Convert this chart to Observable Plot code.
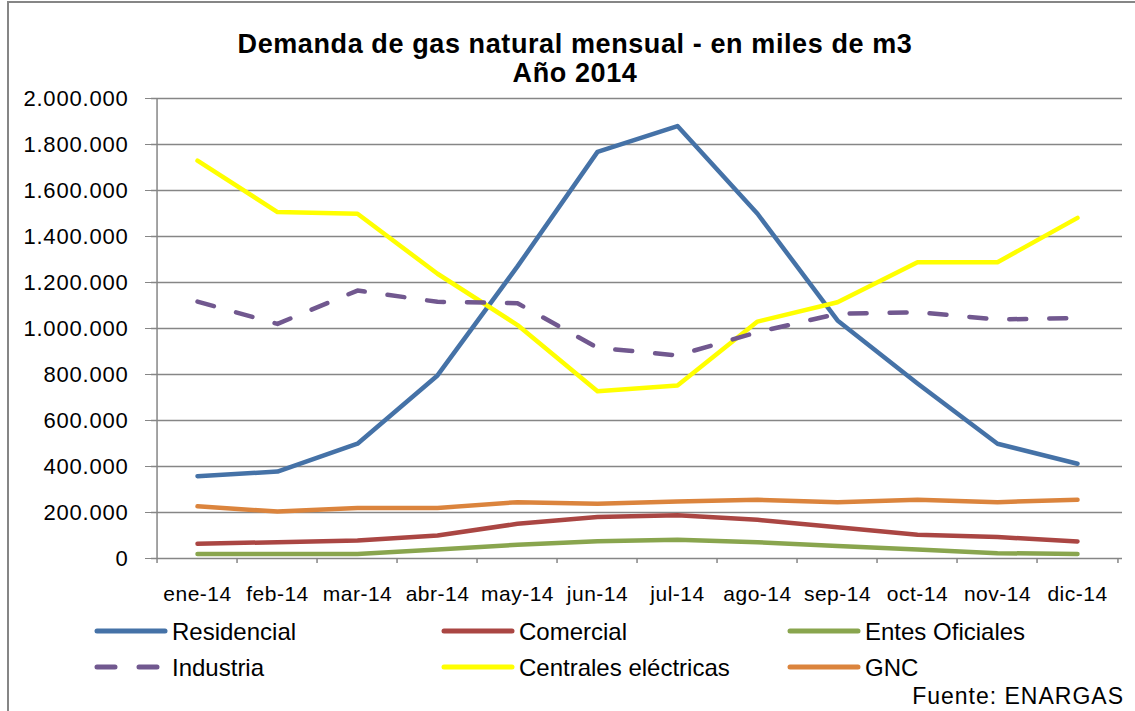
<!DOCTYPE html>
<html><head><meta charset="utf-8">
<script src="https://cdn.jsdelivr.net/npm/d3@7"></script>
<script src="https://cdn.jsdelivr.net/npm/@observablehq/plot@0.6"></script>
<style>
body{margin:0;background:#fff;font-family:"Liberation Sans",Arial,sans-serif;}
#wrap{position:relative;width:1135px;height:711px;overflow:hidden;background:#fff;}
#border{position:absolute;left:7px;top:1px;width:1300px;height:900px;border:2px solid #868686;box-sizing:border-box;}
#chart{position:absolute;left:0;top:0;}
#overlay{position:absolute;left:0;top:0;pointer-events:none;}
</style></head>
<body>
<div id="wrap"><div id="border"></div><div id="chart"></div><div id="overlay"></div></div>
<script>
const months = ["ene-14","feb-14","mar-14","abr-14","may-14","jun-14","jul-14","ago-14","sep-14","oct-14","nov-14","dic-14"];
const residencial = [358000, 378000, 499000, 796000, 1270000, 1768000, 1880000, 1499000, 1035000, 761000, 499000, 412000];
const comercial = [64000, 71000, 78000, 100000, 151000, 180000, 188000, 168000, 136000, 103000, 93000, 74000];
const entesOficiales = [20000, 20000, 20000, 39000, 60000, 75000, 81000, 71000, 54000, 39000, 23000, 20000];
const industria = [1117000, 1020000, 1165000, 1116000, 1110000, 916000, 883000, 984000, 1064000, 1071000, 1039000, 1046000];
const centrales = [1730000, 1506000, 1499000, 1238000, 1015000, 727000, 752000, 1030000, 1114000, 1288000, 1288000, 1481000];
const gnc = [227000, 204000, 220000, 220000, 245000, 238000, 248000, 255000, 245000, 255000, 245000, 255000];
const seriesNames = ["Residencial","Comercial","Entes Oficiales","Industria","Centrales eléctricas","GNC"];
const seriesColors = ["#4572A7","#AA4643","#89A54E","#71588F","#FFFF00","#DB843D"];
const yTicks = [0,200000,400000,600000,800000,1000000,1200000,1400000,1600000,1800000,2000000];
const title1 = "Demanda de gas natural mensual - en miles de m3";
const title2 = "Año 2014";
const source = "Fuente: ENARGAS";

const seriesValues = [residencial, comercial, entesOficiales, industria, centrales, gnc];
const data = [];
seriesNames.forEach((s, i) => months.forEach((m, j) => data.push({serie: s, month: m, value: seriesValues[i][j]})));

const fmt = d3.formatLocale({decimal: ",", thousands: ".", grouping: [3], currency: ["", ""]}).format(",.0f");

const W = 1135, H = 711;
const mL = 151, mR = 13, mT = 98, mB = 153;
const step = (W - mL - mR) / months.length;
const gray = "#868686";

const plot = Plot.plot({
  width: W, height: H,
  marginLeft: mL, marginRight: mR, marginTop: mT, marginBottom: mB,
  style: {fontFamily: "'Liberation Sans', Arial, sans-serif", background: "transparent", color: "#000"},
  x: {type: "point", domain: months, padding: 0.5},
  y: {domain: [0, 2000000]},
  color: {domain: seriesNames, range: seriesColors},
  marks: [
    Plot.ruleY(yTicks, {stroke: gray, strokeWidth: 1.5}),
    Plot.ruleX(months.slice(0,1), {x: d => d, dx: -step / 2, stroke: gray, strokeWidth: 1.5}),
    Plot.ruleX(months, {x: d => d, dx: -step / 2, y1: 0, y2: -22000, stroke: gray, strokeWidth: 1.5}),
    Plot.ruleX(months.slice(-1), {x: d => d, dx: step / 2, y1: 0, y2: -22000, stroke: gray, strokeWidth: 1.5}),
    Plot.axisY({ticks: yTicks, tickFormat: fmt, tickSize: 6, tickPadding: 17, fontSize: 22, stroke: gray, fill: "#000", label: null}),
    Plot.axisX({tickSize: 0, tickPadding: 28, fontSize: 21, fill: "#000", label: null}),
    Plot.line(data.filter(d => d.serie !== "Industria"), {x: "month", y: "value", z: "serie", stroke: "serie", strokeWidth: 4.5, strokeLinecap: "round", strokeLinejoin: "round"}),
    Plot.line(data.filter(d => d.serie === "Industria"), {x: "month", y: "value", stroke: "serie", strokeWidth: 4.5, strokeLinecap: "round", strokeLinejoin: "round", strokeDasharray: "17,23"})
  ]
});
document.getElementById("chart").appendChild(plot);
d3.select(plot).selectAll('g[aria-label="y-axis tick label"] text').style("letter-spacing", "0.8px");
d3.select(plot).selectAll('g[aria-label="x-axis tick label"] text').style("letter-spacing", "0.5px");

// Title, legend and source
const ov = d3.select("#overlay").append("svg").attr("width", W).attr("height", H)
  .style("font-family", "'Liberation Sans', Arial, sans-serif");
ov.append("text").attr("x", 575).attr("y", 53).attr("text-anchor", "middle").attr("font-size", 27).attr("font-weight", "bold").style("letter-spacing", "0.6px").text(title1);
ov.append("text").attr("x", 575).attr("y", 82).attr("text-anchor", "middle").attr("font-size", 27).attr("font-weight", "bold").style("letter-spacing", "0.6px").text(title2);

const legendCols = [95, 442, 788];
const legendRows = [631, 667];
seriesNames.forEach((s, i) => {
  const cx = legendCols[i % 3], cy = legendRows[Math.floor(i / 3)];
  const g = ov.append("g");
  g.append("line").attr("x1", cx + 2).attr("x2", cx + 70).attr("y1", cy).attr("y2", cy)
    .attr("stroke", seriesColors[i]).attr("stroke-width", 5).attr("stroke-linecap", "round")
    .attr("stroke-dasharray", s === "Industria" ? "18,24" : null);
  g.append("text").attr("x", cx + 77).attr("y", cy + 9).attr("font-size", 24).attr("fill", "#000").text(s);
});
ov.append("text").attr("x", 1124).attr("y", 704).attr("text-anchor", "end").attr("font-size", 23).style("letter-spacing", "1px").text(source);
</script>
</body></html>
